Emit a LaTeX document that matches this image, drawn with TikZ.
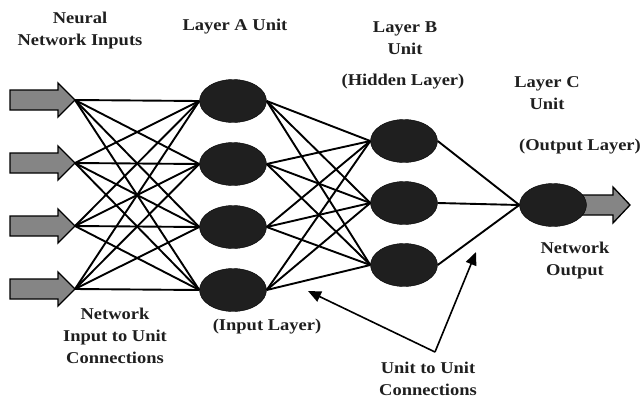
\documentclass[tikz,border=0pt]{standalone}
\usepackage{fontspec}
\setmainfont{Liberation Serif}[FakeStretch=1.12]
\usetikzlibrary{shapes.geometric,arrows.meta}
\begin{document}
\begin{tikzpicture}[x=1pt,y=-1pt,
  unit/.style={ellipse,draw=black,fill=black!88,minimum width=67pt,minimum height=43pt,inner sep=0pt},
  conn/.style={draw=black,line width=1.9pt},
  inarrow/.style={draw=black,fill=black!48,line width=1.3pt,line join=miter},
  lbl/.style={font=\fontsize{16.5}{22}\selectfont\bfseries,align=center,inner sep=0pt,text=black!88},
  pointer/.style={draw=black,line width=1.6pt,-{Triangle[length=13pt,width=11pt]}}]
\useasboundingbox (0,0) rectangle (643,400);
% input arrows
\foreach \i/\y in {1/100,2/163,3/226,4/289}{
  \draw[inarrow] (10,\y-10) -- (58,\y-10) -- (58,\y-17) -- (75,\y) -- (58,\y+17) -- (58,\y+10) -- (10,\y+10) -- cycle;
  \coordinate (in\i) at (75,\y);
}
% output arrow
\draw[inarrow] (575,195) -- (613,195) -- (613,187) -- (630,205) -- (613,223) -- (613,215) -- (575,215) -- cycle;
% units
\node[unit] (a1) at (233,101) {};
\node[unit] (a2) at (233,164) {};
\node[unit] (a3) at (233,227) {};
\node[unit] (a4) at (233,290) {};
\node[unit] (b1) at (404,141) {};
\node[unit] (b2) at (404,203) {};
\node[unit] (b3) at (404,265) {};
\node[unit] (c) at (553,205) {};
% connections
\foreach \i in {1,...,4}{\foreach \j in {1,...,4}{\draw[conn] (in\i) -- (a\j.west);}}
\foreach \i in {1,...,4}{\foreach \j in {1,...,3}{\draw[conn] (a\i.east) -- (b\j.west);}}
\foreach \j in {1,...,3}{\draw[conn] (b\j.east) -- (c.west);}
% labels
\node[lbl] (lin) at (80,31) {Neural\\Network Inputs};
\node[lbl] (la) at (235,27) {Layer A Unit};
\node[lbl] (lb) at (405,38) {Layer B\\Unit};
\node[lbl] (lbh) at (403,82) {(Hidden Layer)};
\node[lbl] (lc) at (547,93) {Layer C\\Unit};
\node[lbl] (lco) at (580,147) {(Output Layer)};
\node[lbl] (lno) at (575,261) {Network\\Output};
\node[lbl] (lnc) at (115,336) {Network\\Input to Unit\\Connections};
\node[lbl] (lil) at (267,327) {(Input Layer)};
\node[lbl] (luu) at (428,379) {Unit to Unit\\Connections};
% pointers
\coordinate (apex) at (435,352);
\coordinate (p1) at (476,252);
\coordinate (p2) at (308,291);
\draw[pointer] (apex) -- (p1);
\draw[pointer] (apex) -- (p2);
\end{tikzpicture}
\end{document}
